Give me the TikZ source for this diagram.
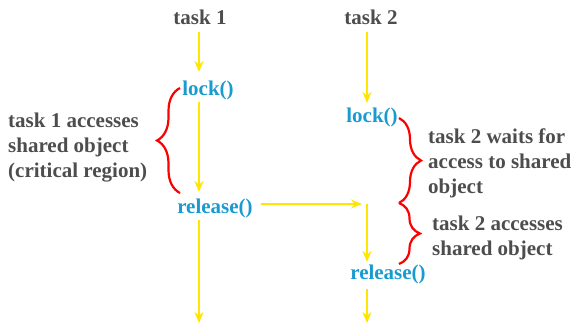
\documentclass[tikz,border=0pt]{standalone}
\usepackage{fontspec}
\setmainfont{Liberation Serif}
\usetikzlibrary{arrows.meta,decorations.pathreplacing}
\definecolor{tgray}{HTML}{4D4D4D}
\definecolor{tblue}{HTML}{1A9BD0}
\definecolor{tyel}{HTML}{FFE600}
\definecolor{tred}{HTML}{FF0000}
\begin{document}
\begin{tikzpicture}[x=1pt,y=-1pt,
  lab/.style={font=\fontsize{21}{25}\selectfont\bfseries, text=tgray, inner sep=0pt},
  fn/.style={font=\fontsize{21}{25}\selectfont\bfseries, text=tblue, inner sep=0pt},
  arr/.style={draw=tyel, line width=1.8pt, -{Stealth[length=11pt,width=9pt]}},
  br/.style={draw=tred, line width=2.2pt, decorate, decoration={brace, amplitude=#1}}]
\useasboundingbox (0,0) rectangle (576,325);
% nodes
\node[lab] (t1) at (200,17) {task 1};
\node[lab] (t2) at (371,17) {task 2};
\node[fn] (lock1) at (208,90) {lock()};
\node[fn] (rel1) at (215,208) {release()};
\node[fn] (lock2) at (372,117) {lock()};
\node[fn] (rel2) at (388,274) {release()};
\node[lab, align=left, anchor=west] (L1) at (8,148) {task 1 accesses\\shared object\\(critical region)};
\node[lab, align=left, anchor=west] (L2) at (428,163) {task 2 waits for\\access to shared\\object};
\node[lab, align=left, anchor=west] (L3) at (432,238) {task 2 accesses\\shared object};
% connector ends
\coordinate (a1s) at (199,32);  \coordinate (a1e) at (199,72);
\coordinate (a2s) at (199,102); \coordinate (a2e) at (199,192);
\coordinate (a3s) at (199,220); \coordinate (a3e) at (199,323);
\coordinate (b1s) at (367,32);  \coordinate (b1e) at (367,103);
\coordinate (hs) at (261,204);  \coordinate (he) at (362,204);
\coordinate (b2s) at (367,204); \coordinate (b2e) at (367,262);
\coordinate (b3s) at (367,289); \coordinate (b3e) at (367,323);
% arrows
\draw[arr] (a1s) -- (a1e);
\draw[arr] (a2s) -- (a2e);
\draw[arr] (a3s) -- (a3e);
\draw[arr] (b1s) -- (b1e);
\draw[arr] (hs) -- (he);
\draw[arr] (b2s) -- (b2e);
\draw[arr] (b3s) -- (b3e);
% braces
\coordinate (p1) at (180,193); \coordinate (p2) at (180,88);
\coordinate (q1) at (399,118); \coordinate (q2) at (399,203); \coordinate (q3) at (399,264);
\draw[br=23pt] (p1) -- (p2);
\draw[br=22pt] (q1) -- (q2);
\draw[br=21pt] (q2) -- (q3);
\end{tikzpicture}
\end{document}
